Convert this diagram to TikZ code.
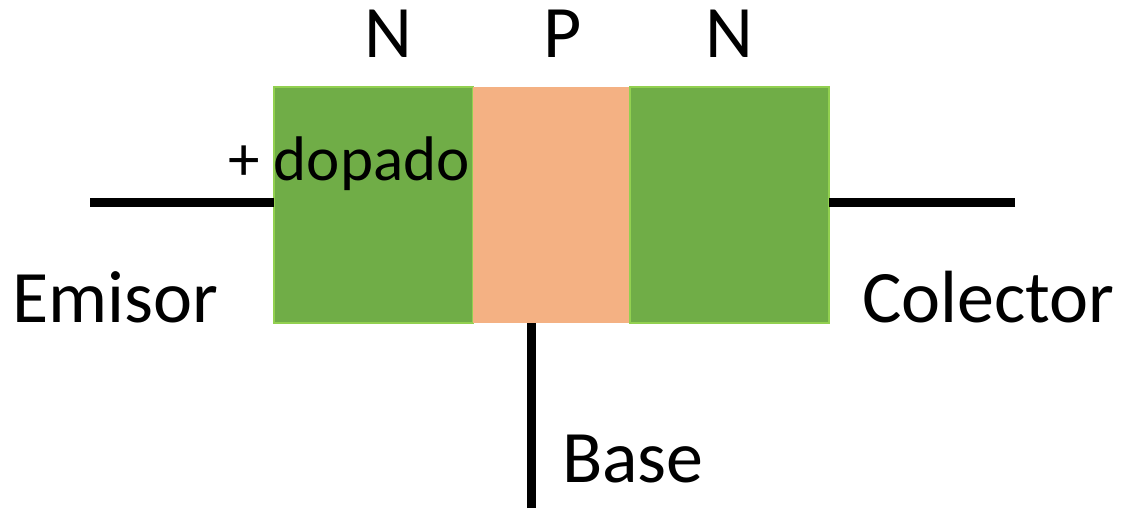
\documentclass[tikz,border=0pt]{standalone}
\usepackage{fontspec}
\setmainfont{Carlito}
\usepackage{tikz}
\usetikzlibrary{positioning}
\definecolor{nGreen}{HTML}{70AD47}
\definecolor{nGreenLine}{HTML}{92D050}
\definecolor{pOrange}{HTML}{F4B183}
\tikzset{region/.style={inner sep=0, outer sep=0, minimum height=236pt, line width=1.5pt}}
\tikzset{n-region/.style={region, draw=nGreenLine, fill=nGreen, minimum width=199pt}}
\tikzset{p-region/.style={region, fill=pOrange, minimum width=157pt}}
\tikzset{wire/.style={line width=9pt, black}}
\tikzset{big-label/.style={inner sep=0, font=\fontsize{74}{80}\selectfont}}
\tikzset{type-label/.style={inner sep=0, anchor=base, font=\fontsize{74}{80}\selectfont}}

\begin{document}
\begin{tikzpicture}[x=1pt, y=-1pt]
    \useasboundingbox (0,0) rectangle (1122,509);

    % regions of the transistor
    \node[n-region] (emisorN) at (373.5,205) {};
    \node[p-region, right=0pt of emisorN] (baseP) {};
    \node[n-region, right=0pt of baseP] (colectorN) {};

    % wires
    \coordinate (emisorEnd) at (90,202);
    \coordinate (colectorEnd) at (1015,202);
    \coordinate (baseEnd) at (531,508);
    \draw[wire] (emisorEnd) -- (emisorEnd -| emisorN.west);
    \draw[wire] (colectorEnd) -- (colectorEnd -| colectorN.east);
    \draw[wire] (baseEnd) -- (baseEnd |- baseP.south);

    % labels
    \node[type-label] (emisorType) at (388,57) {N};
    \node[type-label] (baseType) at (563,57) {P};
    \node[type-label] (colectorType) at (729,57) {N};
    \node[big-label, anchor=base east, font=\fontsize{63}{70}\selectfont] (dopado) at (470,180) {+\ dopado};
    \node[big-label, anchor=base west] (emisorLabel) at (12,322) {Emisor};
    \node[big-label, anchor=base west] (colectorLabel) at (862,322) {Colector};
    \node[big-label, anchor=base west] (baseLabel) at (562,482) {Base};
\end{tikzpicture}
\end{document}
